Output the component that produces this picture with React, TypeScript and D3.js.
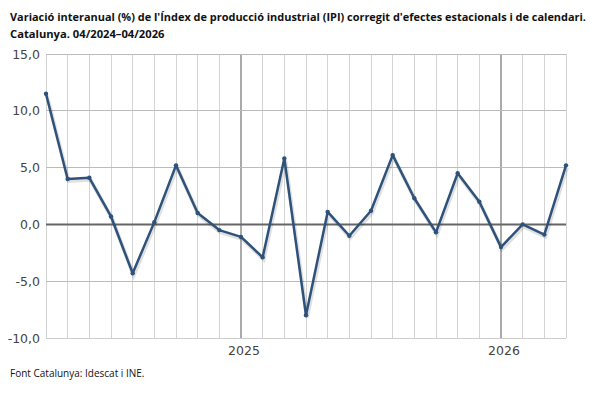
import React, { useEffect, useRef } from 'react';
import * as d3 from 'd3';

const months = [
  '04/2024', '05/2024', '06/2024', '07/2024', '08/2024', '09/2024', '10/2024', '11/2024', '12/2024',
  '01/2025', '02/2025', '03/2025', '04/2025', '05/2025', '06/2025', '07/2025', '08/2025', '09/2025',
  '10/2025', '11/2025', '12/2025', '01/2026', '02/2026', '03/2026', '04/2026',
];
const values = [
  11.5, 4.0, 4.1, 0.7, -4.3, 0.2, 5.2, 1.0, -0.5,
  -1.1, -2.9, 5.8, -8.0, 1.1, -1.0, 1.2, 6.1, 2.3,
  -0.7, 4.5, 2.0, -2.0, 0.0, -0.9, 5.2,
];
const yTicks = [-10, -5, 0, 5, 10, 15];
const yearLabels = [
  { month: '01/2025', label: '2025' },
  { month: '01/2026', label: '2026' },
];

const App = () => {
  const svgRef = useRef(null);

  useEffect(() => {
    const width = 600;
    const height = 400;
    const margin = { left: 46, right: 34, top: 54, bottom: 62 };

    const svg = d3.select(svgRef.current).attr('width', width).attr('height', height);
    svg.selectAll('*').remove();

    const x = d3.scalePoint().domain(months).range([margin.left, width - margin.right]);
    const y = d3.scaleLinear().domain([-10, 15]).range([height - margin.bottom, margin.top]);

    // title
    const title = svg.append('text')
      .attr('font-family', 'Open Sans')
      .attr('font-weight', 'bold')
      .attr('font-size', 11.2)
      .attr('fill', '#111');
    title.append('tspan').attr('x', 10).attr('y', 21)
      .attr('textLength', 576).attr('lengthAdjust', 'spacingAndGlyphs')
      .text("Variació interanual (%) de l'Índex de producció industrial (IPI) corregit d'efectes estacionals i de calendari.");
    title.append('tspan').attr('x', 10).attr('y', 38).text('Catalunya. 04/2024–04/2026');

    // vertical grid
    svg.append('g').selectAll('line').data(months).join('line')
      .attr('x1', (d) => x(d)).attr('x2', (d) => x(d))
      .attr('y1', y(15)).attr('y2', y(-10))
      .attr('stroke', (d) => (d.startsWith('01/') ? '#aaa' : '#d4d4d4'))
      .attr('stroke-width', (d) => (d.startsWith('01/') ? 1.5 : 1))
      .attr('shape-rendering', 'crispEdges');

    // horizontal grid
    svg.append('g').selectAll('line').data(yTicks.filter((t) => t !== 0)).join('line')
      .attr('x1', margin.left).attr('x2', width - margin.right)
      .attr('y1', (d) => y(d)).attr('y2', (d) => y(d))
      .attr('stroke', (d) => (d === -10 ? '#ccc' : '#bbb'))
      .attr('stroke-width', 1)
      .attr('shape-rendering', 'crispEdges');

    // zero line
    svg.append('line')
      .attr('x1', margin.left).attr('x2', width - margin.right)
      .attr('y1', y(0)).attr('y2', y(0))
      .attr('stroke', '#666').attr('stroke-width', 2);

    // y labels
    svg.append('g').selectAll('text').data(yTicks).join('text')
      .attr('x', 40).attr('y', (d) => y(d) + 4.5)
      .attr('text-anchor', 'end')
      .attr('font-family', 'DejaVu Sans')
      .attr('font-size', 12.5)
      .attr('fill', '#444')
      .text((d) => d3.format('.1f')(d).replace('.', ',').replace('−', '-'));

    // year labels
    svg.append('g').selectAll('text').data(yearLabels).join('text')
      .attr('x', (d) => x(d.month) + 3).attr('y', y(-10) + 17)
      .attr('text-anchor', 'middle')
      .attr('font-family', 'DejaVu Sans')
      .attr('font-size', 12.5)
      .attr('fill', '#444')
      .text((d) => d.label);

    const line = d3.line<number>().x((_, i) => x(months[i])).y((d) => y(d));

    // shadow
    svg.append('path').datum(values)
      .attr('d', line)
      .attr('fill', 'none')
      .attr('stroke', '#000')
      .attr('stroke-opacity', 0.12)
      .attr('stroke-width', 4)
      .attr('transform', 'translate(1,2)');

    svg.append('path').datum(values)
      .attr('d', line)
      .attr('fill', 'none')
      .attr('stroke', '#2e5279')
      .attr('stroke-width', 2.5)
      .attr('stroke-linejoin', 'round');

    svg.append('g').selectAll('circle').data(values).join('circle')
      .attr('cx', (_, i) => x(months[i]))
      .attr('cy', (d) => y(d))
      .attr('r', 2.2)
      .attr('fill', '#2e5279');

    // footer
    svg.append('text')
      .attr('x', 10).attr('y', 377)
      .attr('font-family', 'Open Sans')
      .attr('font-size', 10)
      .attr('fill', '#111')
      .text('Font Catalunya: Idescat i INE.');
  }, []);

  return <svg ref={svgRef} style={{ position: 'absolute', left: 0, top: 0 }} />;
};

export default App;
